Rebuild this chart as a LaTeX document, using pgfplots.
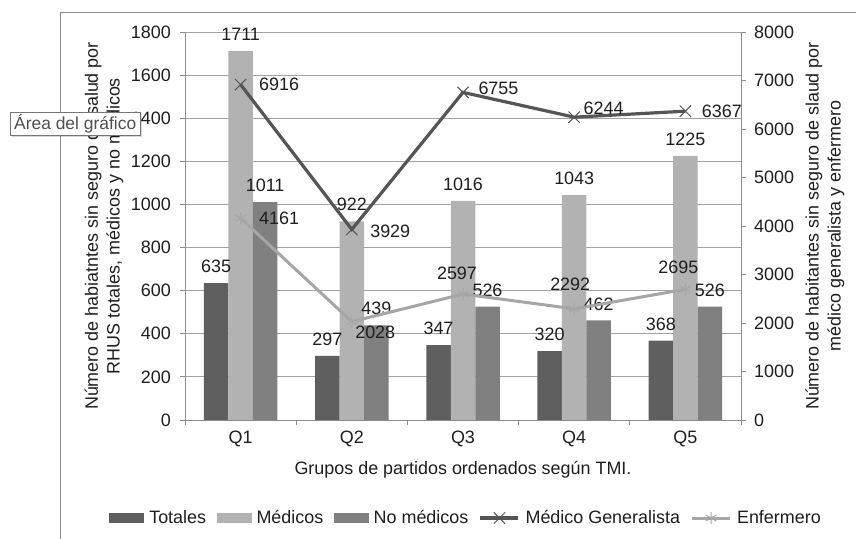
\documentclass[border=0pt]{standalone}
\usepackage{pgfplots}
\pgfplotsset{compat=1.18}
\usepackage{fontspec}
\setmainfont{Liberation Sans}
\definecolor{totcol}{HTML}{5F5F5F}
\definecolor{medcol}{HTML}{B2B2B2}
\definecolor{nomcol}{HTML}{808080}
\definecolor{gencol}{HTML}{555555}
\definecolor{enfcol}{HTML}{A6A6A6}
\definecolor{gridcol}{HTML}{A3A3A3}
\definecolor{axcol}{HTML}{8C8C8C}
\definecolor{txtcol}{HTML}{1E1E1E}
\definecolor{tipborder}{HTML}{767676}
\definecolor{tiptext}{HTML}{505050}
\pgfplotsset{
  /pgf/number format/.cd, 1000 sep={}, assume math mode=true,
}
\pgfplotsset{
  linelegend/.style={legend image code/.code={\draw[mark repeat=2,mark phase=2,##1] plot coordinates {(0bp,0bp) (19bp,0bp) (38bp,0bp)};}},
  barlegend/.style={legend image code/.code={\fill[#1] (0bp,-4.5bp) rectangle (34bp,4.5bp);}},
  common/.style={
    at={(185bp,119bp)}, anchor=south west,
    scale only axis, width=556bp, height=388bp,
    xmin=-0.5, xmax=4.5,
    axis line style={axcol, line width=0.8bp},
    tick style={axcol, line width=0.8bp},
    tick align=outside, major tick length=5bp,
    every tick label/.append style={text=txtcol},
    clip=false,
  },
}
\begin{document}
\fontsize{18}{22}\selectfont
\begin{tikzpicture}
\useasboundingbox (0bp,0bp) rectangle (856bp,539bp);
\draw[axcol, line width=0.8bp] (60bp,0bp) -- (60bp,527bp) -- (856bp,527bp);
\begin{axis}[common,
  ymin=0, ymax=1800, ytick distance=200,
  xtick={-0.5,0.5,1.5,2.5,3.5,4.5},
  x tick label as interval,
  xticklabels={Q1,Q2,Q3,Q4,Q5},
  axis x line*=bottom, axis y line*=left,
  ymajorgrids, grid style={gridcol, line width=0.8bp},
  ybar=0pt, bar width=24.5bp,
  yticklabel style={xshift=-3bp},
  xlabel={Grupos de partidos ordenados según TMI.},
  xlabel style={at={(axis description cs:0.5,-0.128)}, anchor=center, text=txtcol},
  ylabel={Número de habiatntes sin seguro de salud por\\RHUS totales, médicos y no médicos},
  ylabel style={at={(axis description cs:-0.1457,0.5)}, anchor=center, align=center, text=txtcol},
  nodes near coords,
  every node near coord/.append style={text=txtcol, inner sep=2bp, yshift=8bp},
]
\addplot[fill=totcol, draw=none] coordinates {(0,635) (1,297) (2,347) (3,320) (4,368)};
\addplot[fill=medcol, draw=none] coordinates {(0,1711) (1,922) (2,1016) (3,1043) (4,1225)};
\addplot[fill=nomcol, draw=none] coordinates {(0,1011) (1,439) (2,526) (3,462) (4,526)};
\end{axis}
\begin{axis}[common,
  ymin=0, ymax=8000, ytick distance=1000,
  axis x line=none, axis y line*=right,
  yticklabel style={xshift=2bp},
  ylabel={Número de habitantes sin seguro de slaud por\\médico generalista y enfermero},
  ylabel style={at={(axis description cs:1.151,0.5)}, anchor=center, align=center, rotate=0, text=txtcol},
  legend style={at={(0.506,-0.2526)}, anchor=center, draw=none, fill=none,
    legend columns=-1, text=txtcol,
    nodes={inner sep=2.5bp},
    /tikz/every odd column/.append style={column sep=3bp},
    /tikz/every even column/.append style={column sep=8bp}},
]
\addlegendimage{barlegend=totcol}\addlegendentry{Totales}
\addlegendimage{barlegend=medcol}\addlegendentry{Médicos}
\addlegendimage{barlegend=nomcol}\addlegendentry{No médicos}
\addplot[gencol, line width=3.2bp, mark=x, mark size=8bp, mark options={line width=1bp, gencol}, linelegend,
  nodes near coords,
  every node near coord/.append style={text=txtcol, inner sep=2bp},
  coordinate style/.condition={x==0}{anchor=west, xshift=16bp},
  coordinate style/.condition={x==1}{anchor=west, xshift=16bp, yshift=-2bp},
  coordinate style/.condition={x==2}{anchor=west, xshift=13bp, yshift=4bp},
  coordinate style/.condition={x==3}{anchor=west, xshift=7bp, yshift=9bp},
  coordinate style/.condition={x==4}{anchor=west, xshift=14bp},
] coordinates {(0,6916) (1,3929) (2,6755) (3,6244) (4,6367)};
\addlegendentry{Médico Generalista}
\addplot[enfcol, line width=3bp, mark=asterisk, mark size=6bp, mark options={line width=1bp, enfcol}, linelegend,
  nodes near coords,
  every node near coord/.append style={text=txtcol, inner sep=2bp},
  coordinate style/.condition={x==0}{anchor=west, xshift=16bp},
  coordinate style/.condition={x==1}{anchor=north west, xshift=1bp, yshift=-2bp},
  coordinate style/.condition={x==2}{anchor=south, xshift=-6bp, yshift=12bp},
  coordinate style/.condition={x==3}{anchor=south, xshift=-4bp, yshift=16bp},
  coordinate style/.condition={x==4}{anchor=south, xshift=-7bp, yshift=13bp},
] coordinates {(0,4161) (1,2028) (2,2597) (3,2292) (4,2695)};
\addlegendentry{Enfermero}
\end{axis}
\fill[black, opacity=0.15] (12bp,402bp) rectangle (142bp,425bp);
\node[draw=tipborder, fill=white, text=tiptext, anchor=north west, inner sep=0pt,
  minimum width=130bp, minimum height=23bp, font=\fontsize{17.5}{19}\selectfont] at (10bp,427bp) {Área del gráfico};
\end{tikzpicture}
\end{document}
